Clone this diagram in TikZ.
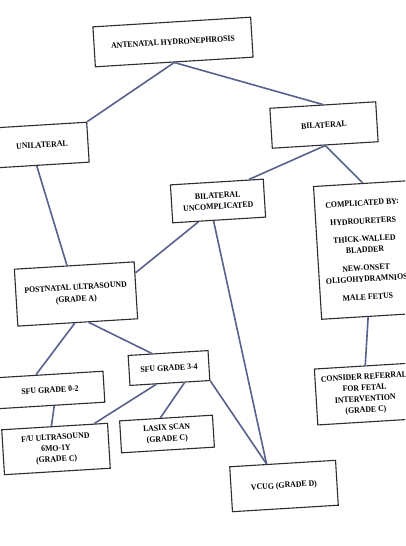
\documentclass[tikz,border=0pt]{standalone}
\usepackage{fontspec}
\setmainfont{Liberation Serif}[FakeStretch=0.93]
\usetikzlibrary{calc}
\definecolor{linkc}{RGB}{88,98,140}
\definecolor{boxc}{RGB}{45,45,50}
\tikzset{
  box/.style={draw=boxc, line width=1.1pt, fill=white, rotate=3.5, align=center,
    font=\fontsize{8.4}{11}\selectfont\bfseries, text=black, inner sep=1pt},
  link/.style={draw=linkc, line width=1.6pt}
}
\begin{document}
\begin{tikzpicture}[x=1pt,y=-1pt]
\useasboundingbox (0,0) rectangle (405,546);
\clip (0,0) rectangle (405,546);
\fill[white] (0,0) rectangle (405,546);
\node[box, minimum width=158, minimum height=40] (ante) at (173,42) {ANTENATAL HYDRONEPHROSIS};
\node[box, minimum width=92, minimum height=40] (uni) at (42,145) {UNILATERAL};
\node[box, minimum width=106, minimum height=40] (bil) at (324,125) {BILATERAL};
\node[box, minimum width=93, minimum height=38] (bilu) at (218,201) {BILATERAL\\UNCOMPLICATED};
\node[box, minimum width=95, minimum height=133] (comp) at (365,250)
  {COMPLICATED BY:\\[7pt]HYDROURETERS\\[7pt]THICK-WALLED\\BLADDER\\[7pt]NEW-ONSET\\OLIGOHYDRAMNIOS\\[7pt]MALE FETUS};
\node[box, minimum width=120, minimum height=57, font=\fontsize{8.4}{12}\selectfont\bfseries] (post) at (76,294) {POSTNATAL ULTRASOUND\\(GRADE A)};
\node[box, minimum width=80, minimum height=30] (sfuh) at (169,368) {SFU GRADE 3-4};
\node[box, minimum width=108, minimum height=31] (sful) at (50,390) {SFU GRADE 0-2};
\node[box, minimum width=106, minimum height=45] (fu) at (56,449) {F/U ULTRASOUND\\6MO-1Y\\(GRADE C)};
\node[box, minimum width=93, minimum height=32] (lasix) at (167,434) {LASIX SCAN\\(GRADE C)};
\node[box, minimum width=106, minimum height=45] (vcug) at (284,486) {VCUG (GRADE D)};
\node[box, minimum width=98, minimum height=56] (cons) at (365,394) {CONSIDER REFERRAL\\FOR FETAL\\INTERVENTION\\(GRADE C)};
\draw[link] (ante.south) -- (uni.north east);
\draw[link] (ante.south) -- (bil.north);
\draw[link] (bil.south) -- ($(bilu.north west)!0.84!(bilu.north east)$);
\draw[link] (bil.south) -- ($(comp.north west)!0.52!(comp.north east)$);
\draw[link] ($(uni.south west)!0.43!(uni.south east)$) -- ($(post.north west)!0.44!(post.north east)$);
\draw[link] ($(bilu.south west)!0.28!(bilu.south east)$) -- ($(post.north east)!0.2!(post.south east)$);
\draw[link] ($(bilu.south west)!0.44!(bilu.south east)$) -- ($(vcug.north west)!0.35!(vcug.north east)$);
\draw[link] ($(post.south west)!0.475!(post.south east)$) -- ($(sful.north west)!0.38!(sful.north east)$);
\draw[link] ($(post.south west)!0.59!(post.south east)$) -- ($(sfuh.north west)!0.3!(sfuh.north east)$);
\draw[link] ($(sful.south west)!0.53!(sful.south east)$) -- ($(fu.north west)!0.47!(fu.north east)$);
\draw[link] ($(sfuh.south west)!0.33!(sfuh.south east)$) -- ($(fu.north west)!0.87!(fu.north east)$);
\draw[link] ($(sfuh.south west)!0.68!(sfuh.south east)$) -- ($(lasix.north west)!0.44!(lasix.north east)$);
\draw[link] (sfuh.south east) -- ($(vcug.north west)!0.35!(vcug.north east)$);
\draw[link] ($(comp.south west)!0.49!(comp.south east)$) -- ($(cons.north west)!0.52!(cons.north east)$);
\end{tikzpicture}
\end{document}
